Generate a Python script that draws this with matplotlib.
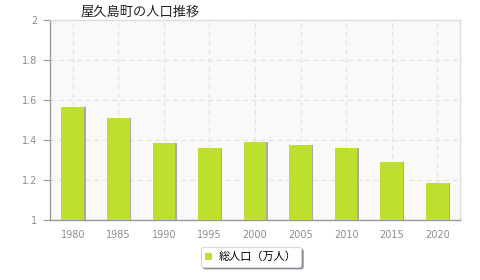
import matplotlib
matplotlib.use("Agg")
import matplotlib.pyplot as plt
import matplotlib.transforms as mtransforms

plt.rcParams['font.family'] = ['Noto Sans CJK JP', 'DejaVu Sans']

years = ["1980", "1985", "1990", "1995", "2000", "2005", "2010", "2015", "2020"]
population = [1.563, 1.510, 1.387, 1.360, 1.388, 1.377, 1.360, 1.292, 1.187]
yticks = [1, 1.2, 1.4, 1.6, 1.8, 2]
ytick_labels = ["1", "1.2", "1.4", "1.6", "1.8", "2"]

bar_color = "#bde02e"

fig = plt.figure(figsize=(4.8, 2.8), dpi=100)
ax = fig.add_axes([50 / 480, 60 / 280, 410 / 480, 200 / 280])
ax.set_facecolor("#f9f9f9")

x = list(range(len(years)))
# slight gray shadow to the right of each bar
shadow = mtransforms.offset_copy(ax.transData, fig=fig, x=1.0, y=0, units="points")
ax.bar(x, [v - 1 for v in population], bottom=1, width=0.5, color="#a8a8a8",
       transform=shadow, zorder=2)
ax.bar(x, [v - 1 for v in population], bottom=1, width=0.5, color=bar_color,
       zorder=3, label="総人口（万人）")

ax.set_xlim(-0.5, len(years) - 0.5)
ax.set_ylim(1, 2)
ax.set_xticks(x)
ax.set_xticklabels(years, family="DejaVu Sans")
ax.set_yticks(yticks)
ax.set_yticklabels(ytick_labels, family="DejaVu Sans")
ax.tick_params(axis="x", length=0, pad=7, labelsize=7, labelcolor="#8c8c8c")
ax.tick_params(axis="y", length=5, width=0.8, color="#999999", pad=4,
               labelsize=7, labelcolor="#8c8c8c")

ax.grid(True, color="#e2e2e2", linestyle=(0, (4, 3)), linewidth=0.9, zorder=0)
ax.set_axisbelow(True)

for side in ["left", "bottom"]:
    ax.spines[side].set_color("#999999")
    ax.spines[side].set_linewidth(1.0)
for side in ["top", "right"]:
    ax.spines[side].set_color("#dddddd")
    ax.spines[side].set_linewidth(1.0)

fig.text(80 / 480, 1 - 12 / 280, "屋久島町の人口推移", fontsize=9.5, color="#222222",
         ha="left", va="center")

leg = fig.legend(loc="center", bbox_to_anchor=(251 / 480, 1 - 257 / 280),
                 fontsize=8, frameon=True, fancybox=True,
                 shadow={"ox": 1.5, "oy": -1.5, "color": "#666677", "alpha": 0.7},
                 handlelength=0.6, handleheight=0.6, handletextpad=0.6,
                 borderpad=0.4, edgecolor="#d8d8d8", framealpha=1)
leg.get_frame().set_linewidth(0.8)

fig.savefig("out.png", dpi=100)
